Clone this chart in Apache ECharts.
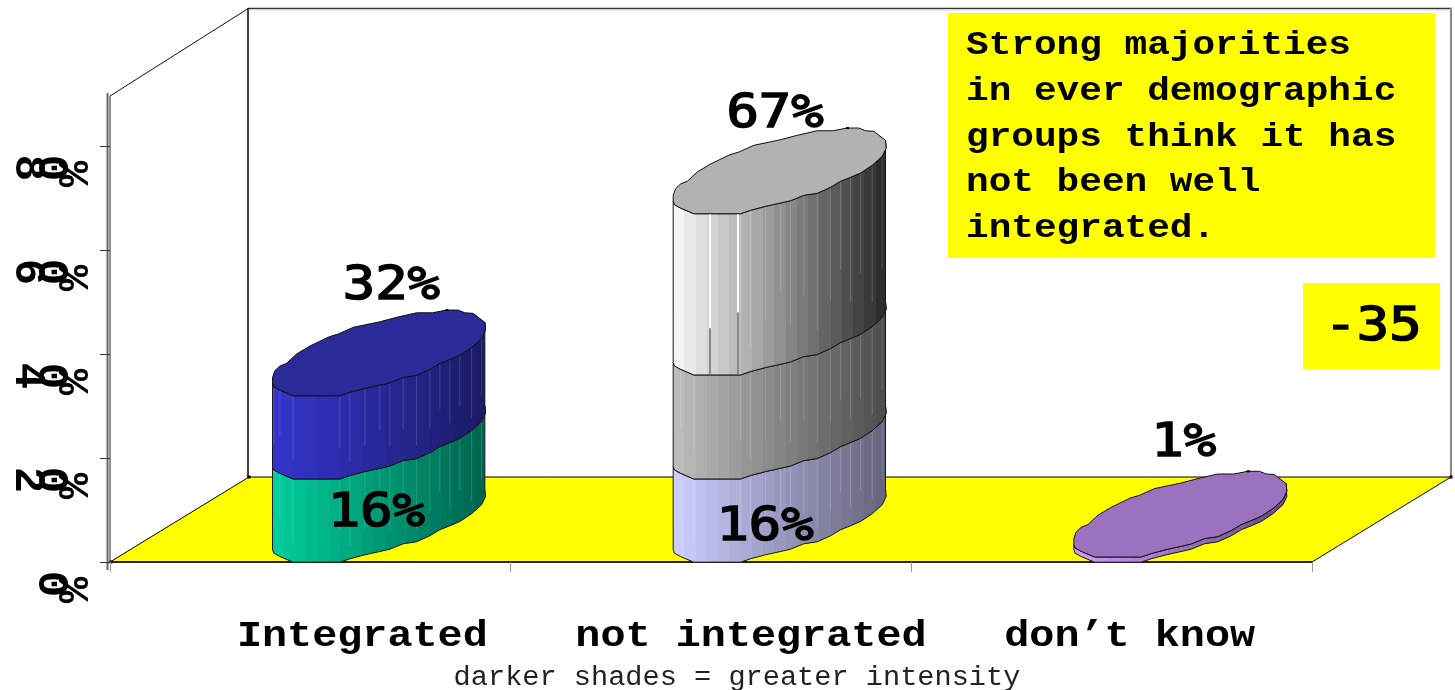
<!DOCTYPE html>
<html>
<head>
<meta charset="utf-8">
<style>html,body{margin:0;padding:0;background:#fff}#c{width:1455px;height:690px}</style>
<script src="https://cdn.jsdelivr.net/npm/echarts@6/dist/echarts.min.js"></script>
</head>
<body>
<div id="c"></div>
<script>
// ---------- data ----------
var categories = ['Integrated', 'not integrated', "don\u2019t know"];
var layerBottom = [16, 16, 1];
var layerMiddle = [16, 20, 0];
var layerTop    = [0, 31, 0];
var yTicks = [0, 20, 40, 60, 80];
var yTickLabels = ['0%', '20%', '40%', '60%', '80%'];
var valueLabels = ['32%', '16%', '67%', '16%', '1%'];
var valueLabelCats = [0, 0, 1, 1, 2];
var valueLabelVals = [32, 16, 67, 16, 1];
var noteLines = ['Strong majorities', 'in ever demographic', 'groups think it has', 'not been well', 'integrated.'];
var gapNote = '-35';
var footnote = 'darker shades = greater intensity';

// ---------- styling ----------
var FONT = '"Liberation Mono", monospace';
var NUMFONT = '"DejaVu Sans Mono", monospace';
var labelNudges = [[81, -109], [66, 35], [64, -98], [54, 49], [72, -113]];
var catNudges = [[52, 75], [40, 75], [18, 75]];
var ramps = [
  [['#00CC99', '#006650'], ['#3434CC', '#1B1B66'], null],
  [['#CCCCFF', '#66667F'], ['#BBBBBB', '#4F4F4F'], ['#F4F4F4', '#2E2E2E']],
  [['#CC99FF', '#664D80'], null, null]
];
var capColors = ['#2A2A99', '#B2B2B2', '#9B72BE'];
var DEPTH_X = 69, DEPTH_Y = 42.5;
var backChain = [[-106.8,24.3],[-104.5,17.7],[-99.5,13],[-92.8,10.3],[-82.8,1],[-69.5,-7],[-50.2,-16.3],[-41.2,-19],[-26.2,-25.7],[0.5,-31.3],[17.2,-35.7],[37.2,-40.3],[53.2,-40.3],[67.2,-43],[78.8,-43],[85.5,-40.3],[93.8,-39.7],[105.5,-30.7]];
var frontChain = [[106.2,-23],[102.2,-14.7],[92.2,-5.7],[80.5,2],[70.5,6.3],[60.5,10.3],[50.5,16.3],[37.2,22.3],[23.8,24.3],[10.5,29.7],[0.5,32],[-14.5,35.3],[-29.5,39.3],[-39.5,42.7],[-86.2,42.7],[-99.5,37],[-105.5,33.7],[-106.8,30.3]];

function hex(c){return [parseInt(c.substr(1,2),16),parseInt(c.substr(3,2),16),parseInt(c.substr(5,2),16)];}
function mix(a,b,t){var A=hex(a),B=hex(b);return 'rgb('+[0,1,2].map(function(i){return Math.round(A[i]+(B[i]-A[i])*t);}).join(',')+')';}
function bands(ramp){
  var n=19,stops=[];
  for(var i=0;i<n;i++){var c=mix(ramp[0],ramp[1],i/(n-1));stops.push({offset:i/n,color:c});stops.push({offset:(i+1)/n,color:c});}
  return stops;
}

function frameItem(params, api){
  var band = api.size([1,0])[0];
  var xL = api.coord([0,0])[0]-band/2, xR = api.coord([2,0])[0]+band/2;
  var y0 = api.coord([0,0])[1], yT = api.coord([0,89.6])[1];
  var dx = 139, dy = 85, topY = yT-88;
  function line(a,b,c,d,col,w){return {type:'line',shape:{x1:a,y1:b,x2:c,y2:d},style:{stroke:col,lineWidth:w}};}
  function dot(x,y){return {type:'rect',shape:{x:x-1.5,y:y-1.5,width:3,height:3},style:{fill:'#000'}};}
  return {type:'group',children:[
    {type:'polygon',shape:{points:[[xL,y0],[xL+dx,y0-dy],[xR+dx,y0-dy],[xR,y0]]},style:{fill:'#FFFF00',stroke:'#000',lineWidth:1}},
    line(xL+dx-1,topY,xL+dx-1,y0-dy,'#444',2),
    line(xL+dx,topY+0.5,xR+dx+1,topY+0.5,'#333',1.5),
    line(xL+dx,topY+2,xR+dx,topY+2,'#ddd',1),
    line(xR+dx,topY,xR+dx,y0-dy,'#888',2),
    line(xL,yT,xL+dx,topY,'#111',1),
    line(xL,yT,xL,y0,'#222',1),
    line(xL-2.5,yT-3,xL-2.5,y0+8,'#666',2),
    dot(xL+1,y0), dot(xL+dx,y0-dy), dot(xR+dx,y0-dy)
  ]};
}

function segmentItem(params, api){
  var cat = api.value(0), v0 = api.value(1), v1 = api.value(2), layer = api.value(3), isTop = api.value(4);
  var bot = api.coord([cat,v0]), top = api.coord([cat,v1]);
  var cx = bot[0]+DEPTH_X, by = bot[1]-DEPTH_Y, ty = top[1]-DEPTH_Y;
  var front = [[105.5,-30.7]].concat(frontChain);
  var pts = front.map(function(p){return [cx+p[0],ty+p[1]];})
    .concat(front.slice().reverse().map(function(p){return [cx+p[0],by+p[1]];}));
  var ramp = ramps[cat][layer];
  var kids = [{type:'polygon',shape:{points:pts},style:{
    fill:new echarts.graphic.LinearGradient(cx-107,0,cx+107,0,bands(ramp),true),
    stroke:'#151515',lineWidth:1}}];
  frontChain.forEach(function(p,i){
    if(i===0||i===frontChain.length-1) return;
    var y1=ty+p[1]+1, y2=by+p[1]-1, len=(y2-y1);
    if(len<3) return;
    kids.push({type:'line',shape:{x1:cx+p[0],y1:y1,x2:cx+p[0],y2:y1+len*(0.55+0.3*((i*7)%5)/4)},
      style:{stroke:'rgba(255,255,255,0.15)',lineWidth:1}});
  });
  if(cat===1 && layer===2){
    [[-70,45],[-42,48]].forEach(function(g){
      var yEnd = api.coord([cat,g[1]])[1]-DEPTH_Y+42.7, yStart=ty+42.7;
      kids.push({type:'line',shape:{x1:cx+g[0],y1:yStart,x2:cx+g[0],y2:yEnd},style:{stroke:'#fff',lineWidth:2}});
      kids.push({type:'line',shape:{x1:cx+g[0],y1:yEnd,x2:cx+g[0],y2:by+42},style:{stroke:'#8a8a8a',lineWidth:2}});
    });
  }
  if(isTop){
    kids.push({type:'polygon',shape:{points:backChain.concat(frontChain).map(function(p){return [cx+p[0],ty+p[1]];})},
      style:{fill:capColors[cat],stroke:'#111',lineWidth:1}});
    kids.push({type:'rect',shape:{x:cx+66,y:ty-44,width:3,height:2},style:{fill:'#000'}});
  }
  return {type:'group',children:kids};
}

function valueLabelItem(params, api){
  var i = params.dataIndex, p = api.coord([api.value(0),api.value(1)]), n = labelNudges[i];
  return {type:'text',x:p[0]+n[0],y:p[1]+n[1],scaleX:1.17,style:{text:valueLabels[i],font:'46px '+NUMFONT,fill:'#000',stroke:'#000',lineWidth:1.6,textAlign:'center',textVerticalAlign:'middle'}};
}
function catLabelItem(params, api){
  var i = params.dataIndex, p = api.coord([i,0]), n = catNudges[i];
  return {type:'text',x:p[0]+n[0],y:p[1]+n[1],scaleX:1.13,style:{text:categories[i],font:'bold 37px '+FONT,fill:'#000',textAlign:'center',textVerticalAlign:'middle'}};
}
function yLabelItem(params, api){
  var i = params.dataIndex, p = api.coord([0,api.value(1)]), band = api.size([1,0])[0];
  var x = p[0]-band/2, chars = yTickLabels[i].split('').reverse(), off=[-40,-60,-83], kids=[];
  chars.forEach(function(ch,k){
    kids.push({type:'text',x:x+off[k],y:p[1]+(k===0?28:22),rotation:-Math.PI/2,
      style:{text:ch,font:'bold 44px '+FONT,fill:'#000',textAlign:'center',textVerticalAlign:'middle'}});
  });
  return {type:'group',children:kids};
}

var segRows = [];
categories.forEach(function(c,i){
  var base=0, layers=[layerBottom[i],layerMiddle[i],layerTop[i]];
  var last = layers[2]>0?2:(layers[1]>0?1:0);
  layers.forEach(function(v,l){ if(v>0){segRows.push([i,base,base+v,l,l===last?1:0]);base+=v;} });
});

var chart = echarts.init(document.getElementById('c'),null,{renderer:'canvas'});
chart.setOption({
  animation:false,
  backgroundColor:'#fff',
  grid:{left:110,top:96,width:1202,height:466,containLabel:false},
  xAxis:{type:'category',data:categories,z:2,
    axisLine:{lineStyle:{color:'#222',width:2}},
    axisTick:{show:true,length:10,lineStyle:{color:'#999',width:1}},
    axisLabel:{show:false},splitLine:{show:false}},
  yAxis:{type:'value',min:0,max:89.6,z:2,
    axisLine:{show:false},
    axisTick:{show:true,length:10,customValues:yTicks,lineStyle:{color:'#333',width:1}},
    axisLabel:{show:false},splitLine:{show:false}},
  series:[
    {name:'frame',type:'custom',z:1,silent:true,data:[[0,0]],encode:{x:0,y:1},renderItem:frameItem},
    {name:'stack',type:'custom',z:3,silent:true,data:segRows,encode:{x:0,y:[1,2]},renderItem:segmentItem},
    {name:'values',type:'custom',z:4,silent:true,
      data:valueLabelCats.map(function(c,i){return [c,valueLabelVals[i]];}),encode:{x:0,y:1},renderItem:valueLabelItem},
    {name:'categories',type:'custom',z:4,silent:true,
      data:categories.map(function(c,i){return [i,0];}),encode:{x:0,y:1},renderItem:catLabelItem},
    {name:'yLabels',type:'custom',z:4,silent:true,
      data:yTicks.map(function(v){return [0,v];}),encode:{x:0,y:1},renderItem:yLabelItem}
  ],
  graphic:[
    {type:'rect',z:10,shape:{x:948,y:13,width:487,height:245},style:{fill:'#FFFF00'}},
    {type:'text',z:11,x:966,y:23,scaleX:1.11,style:{text:noteLines.join('\n'),font:'bold 34px '+FONT,fill:'#000',lineHeight:45.6}},
    {type:'rect',z:10,shape:{x:1303,y:283,width:137,height:86},style:{fill:'#FFFF00'}},
    {type:'text',z:11,x:1373,y:328,scaleX:1.17,style:{text:gapNote,font:'46px '+NUMFONT,fill:'#000',stroke:'#000',lineWidth:1.6,textAlign:'center',textVerticalAlign:'middle'}},
    {type:'text',z:11,x:737,y:678,scaleX:1.06,style:{text:footnote,font:'27px '+FONT,fill:'#222',textAlign:'center',textVerticalAlign:'middle'}}
  ]
});
</script>
</body>
</html>
